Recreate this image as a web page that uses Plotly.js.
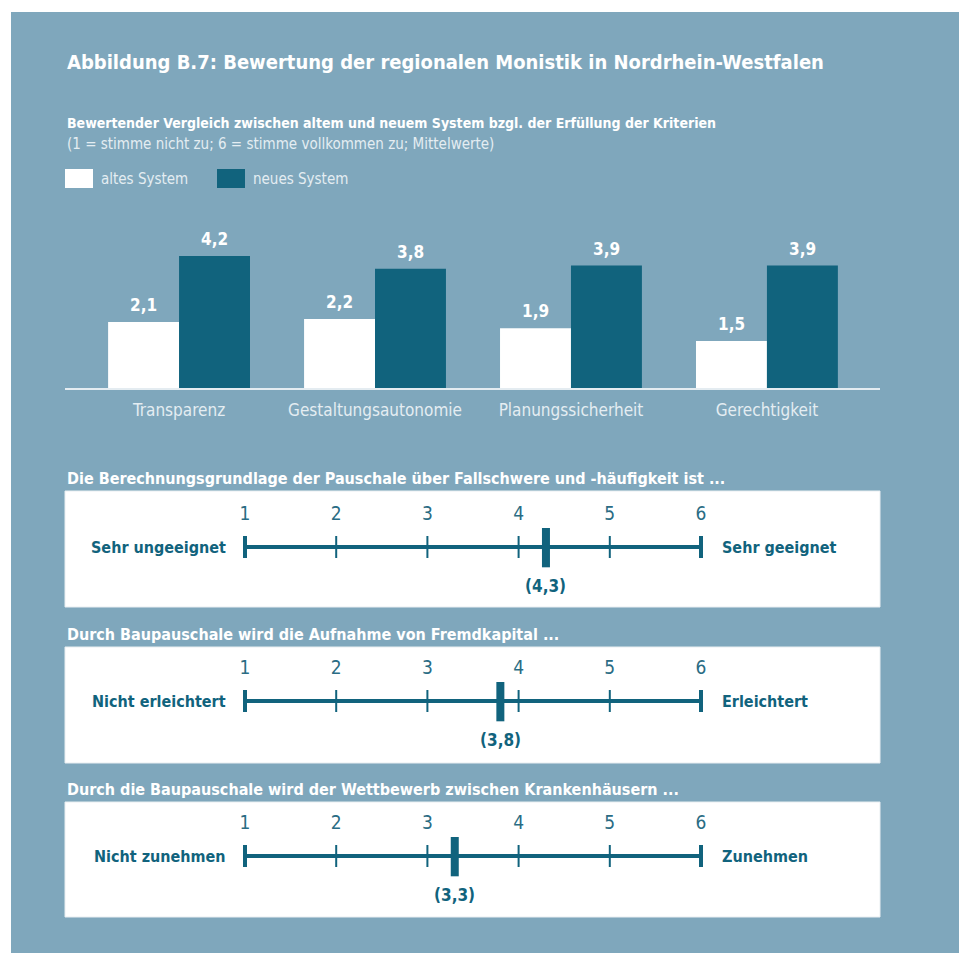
<!DOCTYPE html>
<html>
<head>
<meta charset="utf-8">
<script src="https://cdn.plot.ly/plotly-3.0.1.min.js"></script>
<style>
  html, body { margin: 0; padding: 0; background: #ffffff; }
  #chart { width: 959px; height: 953px; }
</style>
</head>
<body>
<div id="chart"></div>
<script>
// ---------------- DATA ----------------
const chartTitle = 'Abbildung B.7: Bewertung der regionalen Monistik in Nordrhein-Westfalen';
const subTitle = 'Bewertender Vergleich zwischen altem und neuem System bzgl. der Erfüllung der Kriterien';
const subNote = '(1 = stimme nicht zu; 6 = stimme vollkommen zu; Mittelwerte)';
const categories = ['Transparenz', 'Gestaltungsautonomie', 'Planungssicherheit', 'Gerechtigkeit'];
const seriesNames = ['altes System', 'neues System'];
const altesSystem = [2.1, 2.2, 1.9, 1.5];
const neuesSystem = [4.2, 3.8, 3.9, 3.9];
const scaleTicks = [1, 2, 3, 4, 5, 6];
const scaleQuestions = [
  'Die Berechnungsgrundlage der Pauschale über Fallschwere und -häufigkeit ist ...',
  'Durch Baupauschale wird die Aufnahme von Fremdkapital ...',
  'Durch die Baupauschale wird der Wettbewerb zwischen Krankenhäusern ...'
];
const scaleLeftLabels = ['Sehr ungeeignet', 'Nicht erleichtert', 'Nicht zunehmen'];
const scaleRightLabels = ['Sehr geeignet', 'Erleichtert', 'Zunehmen'];
const scaleMeans = [4.3, 3.8, 3.3];

// ---------------- STYLE ----------------
const W = 959, H = 953;
const PANEL = '#7fa7bc';
const TEAL = '#11637d';
const LIGHT = '#e4edf2';
const FONT = '"Liberation Sans Narrow", "DejaVu Sans Condensed", "Arial Narrow", sans-serif';
const px = p => p / W;
const py = p => 1 - p / H;
const fmt = v => v.toFixed(1).replace('.', ',');

const traces = [];
const shapes = [];
const annotations = [];

// background panel
shapes.push({type: 'rect', xref: 'paper', yref: 'paper', x0: px(11), x1: 1, y0: 0, y1: py(12),
  fillcolor: PANEL, line: {width: 0}, layer: 'below'});

// titles
annotations.push({text: '<b>' + chartTitle + '</b>', xref: 'paper', yref: 'paper', x: px(65), y: py(62),
  xanchor: 'left', yanchor: 'middle', showarrow: false, font: {family: FONT, size: 20, color: '#ffffff'}});
annotations.push({text: '<b>' + subTitle + '</b>', xref: 'paper', yref: 'paper', x: px(65), y: py(123),
  xanchor: 'left', yanchor: 'middle', showarrow: false, font: {family: FONT, size: 14, color: '#ffffff'}});
annotations.push({text: subNote, xref: 'paper', yref: 'paper', x: px(65), y: py(144),
  xanchor: 'left', yanchor: 'middle', showarrow: false, font: {family: FONT, size: 15, color: LIGHT}});

// manual legend
const legendX = [65, 217];
const legendColors = ['#ffffff', TEAL];
seriesNames.forEach((n, i) => {
  shapes.push({type: 'rect', xref: 'paper', yref: 'paper', x0: px(legendX[i]), x1: px(legendX[i] + 28),
    y0: py(188), y1: py(169), fillcolor: legendColors[i], line: {width: 0}});
  annotations.push({text: n, xref: 'paper', yref: 'paper', x: px(legendX[i] + 34), y: py(179),
    xanchor: 'left', yanchor: 'middle', showarrow: false, font: {family: FONT, size: 15, color: LIGHT}});
});

// bars
traces.push({type: 'bar', name: seriesNames[0], x: categories, y: altesSystem, xaxis: 'x', yaxis: 'y',
  marker: {color: '#ffffff', line: {width: 0}}, hoverinfo: 'skip'});
traces.push({type: 'bar', name: seriesNames[1], x: categories, y: neuesSystem, xaxis: 'x', yaxis: 'y',
  marker: {color: TEAL, line: {width: 0}}, hoverinfo: 'skip'});

const barHalf = 35.5;
[altesSystem, neuesSystem].forEach((arr, s) => {
  arr.forEach((v, i) => {
    annotations.push({text: '<b>' + fmt(v) + '</b>', xref: 'x', yref: 'y', x: categories[i], y: v,
      xshift: s === 0 ? -barHalf : barHalf, yshift: 5, xanchor: 'center', yanchor: 'bottom',
      showarrow: false, font: {family: FONT, size: 17, color: '#ffffff'}});
  });
});

const layout = {
  width: W, height: H,
  margin: {l: 0, r: 0, t: 0, b: 0, pad: 0},
  paper_bgcolor: '#ffffff',
  plot_bgcolor: 'rgba(0,0,0,0)',
  showlegend: false,
  separators: ',.',
  barmode: 'group',
  bargap: 0.276,
  bargroupgap: 0,
  font: {family: FONT},
  xaxis: {
    domain: [px(65), px(880)], range: [-0.582, 3.577], type: 'category',
    showline: true, linecolor: '#e4ecf1', linewidth: 1.5, ticks: '', showgrid: false, zeroline: false,
    tickfont: {family: FONT, size: 17, color: LIGHT}, ticklabelstandoff: 6, fixedrange: true, anchor: 'y'
  },
  yaxis: {
    domain: [py(388), py(231)], range: [0, 5], visible: false, fixedrange: true, anchor: 'x'
  },
  shapes: shapes,
  annotations: annotations
};

// scale sections
const boxTops = [491, 647, 802];
const boxBottoms = [607, 763, 917];
const lineYs = [547, 701, 856];
const titleYs = [478, 634, 789];
const pxPerUnit = 91.2;
const xOne = 245;
const xr0 = 1 - (xOne - 65) / pxPerUnit;
const xr1 = 1 + (880 - xOne) / pxPerUnit;
const topPx = 19, botPx = 40, unitPx = 22;
const tickH = 0.5, markH = 0.923;

scaleQuestions.forEach((q, k) => {
  const n = k + 2;
  const xa = 'x' + n, ya = 'y' + n;
  shapes.push({type: 'rect', xref: 'paper', yref: 'paper', x0: px(65), x1: px(880),
    y0: py(boxBottoms[k]), y1: py(boxTops[k]), fillcolor: '#ffffff', line: {color: '#e9eef1', width: 1}, layer: 'below'});
  annotations.push({text: '<b>' + q + '</b>', xref: 'paper', yref: 'paper', x: px(65), y: py(titleYs[k]),
    xanchor: 'left', yanchor: 'middle', showarrow: false, font: {family: FONT, size: 16, color: '#ffffff'}});

  layout['xaxis' + n] = {
    domain: [px(65), px(880)], range: [xr0, xr1], anchor: ya, side: 'top',
    showline: false, showgrid: false, zeroline: false, ticks: '', tickvals: scaleTicks,
    ticktext: scaleTicks.map(String), tickfont: {family: FONT, size: 19, color: '#2a6c84'},
    ticklabelstandoff: 3, fixedrange: true
  };
  layout['yaxis' + n] = {
    domain: [py(lineYs[k] + botPx), py(lineYs[k] - topPx)], range: [-botPx / unitPx, topPx / unitPx], visible: false,
    fixedrange: true, anchor: xa
  };

  // main scale line
  traces.push({type: 'scatter', mode: 'lines', x: [scaleTicks[0], scaleTicks[scaleTicks.length - 1]], y: [0, 0],
    xaxis: xa, yaxis: ya, line: {color: TEAL, width: 4}, hoverinfo: 'skip', cliponaxis: false});
  // inner ticks
  const inner = scaleTicks.slice(1, -1);
  const ix = [], iy = [];
  inner.forEach(t => { ix.push(t, t, null); iy.push(-tickH, tickH, null); });
  traces.push({type: 'scatter', mode: 'lines', x: ix, y: iy, xaxis: xa, yaxis: ya,
    line: {color: TEAL, width: 2}, hoverinfo: 'skip', cliponaxis: false});
  // end caps
  const ends = [scaleTicks[0], scaleTicks[scaleTicks.length - 1]];
  const ex = [], ey = [];
  ends.forEach(t => { ex.push(t, t, null); ey.push(-tickH, tickH, null); });
  traces.push({type: 'scatter', mode: 'lines', x: ex, y: ey, xaxis: xa, yaxis: ya,
    line: {color: TEAL, width: 4}, hoverinfo: 'skip', cliponaxis: false});
  // mean marker
  traces.push({type: 'scatter', mode: 'lines', x: [scaleMeans[k], scaleMeans[k]], y: [-markH, markH],
    xaxis: xa, yaxis: ya, line: {color: TEAL, width: 8}, hoverinfo: 'skip', cliponaxis: false});

  annotations.push({text: '<b>(' + fmt(scaleMeans[k]) + ')</b>', xref: xa, yref: ya, x: scaleMeans[k], y: -markH,
    yshift: -7, xanchor: 'center', yanchor: 'top', showarrow: false, font: {family: FONT, size: 17, color: TEAL}});
  annotations.push({text: '<b>' + scaleLeftLabels[k] + '</b>', xref: xa, yref: ya, x: scaleTicks[0], y: 0,
    xshift: -17, xanchor: 'right', yanchor: 'middle', showarrow: false, font: {family: FONT, size: 16, color: TEAL}});
  annotations.push({text: '<b>' + scaleRightLabels[k] + '</b>', xref: xa, yref: ya, x: scaleTicks[scaleTicks.length - 1], y: 0,
    xshift: 19, xanchor: 'left', yanchor: 'middle', showarrow: false, font: {family: FONT, size: 16, color: TEAL}});
});

Plotly.newPlot('chart', traces, layout, {displayModeBar: false, staticPlot: true});
</script>
</body>
</html>
